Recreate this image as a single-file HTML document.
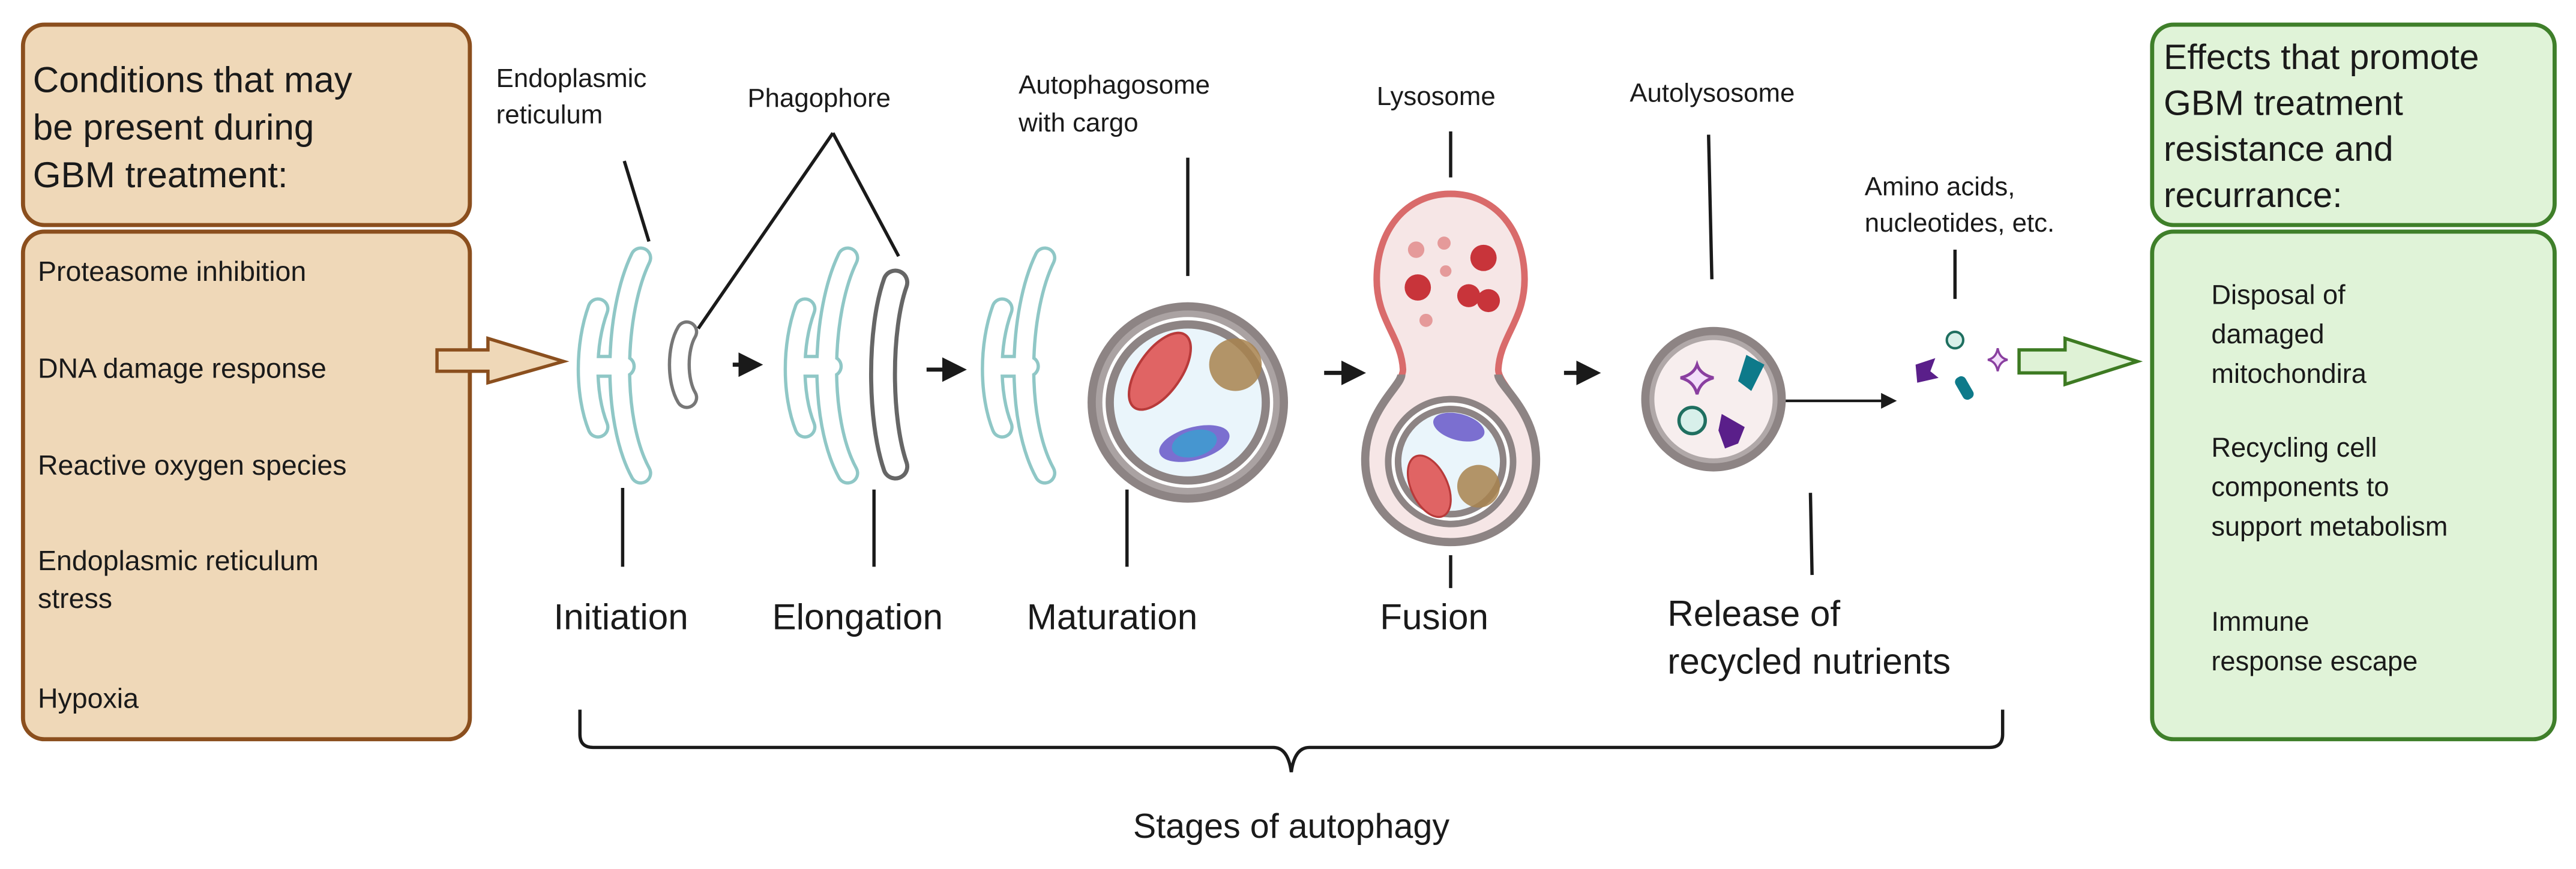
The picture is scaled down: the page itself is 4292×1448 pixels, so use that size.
<!DOCTYPE html>
<html><head><meta charset="utf-8"><style>
html,body{margin:0;padding:0;background:#fff}
svg{display:block}
text{font-family:"Liberation Sans",Arial,sans-serif;fill:#1a1a1a}
</style></head><body>
<svg width="4292" height="1448" viewBox="0 0 1568 529" preserveAspectRatio="none" xmlns="http://www.w3.org/2000/svg">
<defs>
<marker id="ah" markerWidth="6" markerHeight="6" refX="5" refY="3" orient="auto" markerUnits="strokeWidth"><path d="M0,0 L6,3 L0,6 Z" fill="#1a1a1a"/></marker>
<g id="erpaths">
  <path d="M38,7 C22,40 20,105 38,138"/>
  <path d="M12,38 C4,60 4,90 12,110"/>
  <path d="M10,73 L28,73"/>
</g>
<g id="er">
  <use href="#erpaths" stroke="#8fc7c6" stroke-width="14" stroke-linecap="round" fill="none"/>
  <use href="#erpaths" stroke="#fff" stroke-width="10" stroke-linecap="round" fill="none"/>
</g>
</defs>

<!-- Left boxes -->
<rect x="14" y="15" width="272" height="122" rx="13" fill="#efd8b8" stroke="#8b4f1e" stroke-width="2.5"/>
<rect x="14" y="141" width="272" height="309" rx="13" fill="#efd8b8" stroke="#8b4f1e" stroke-width="2.5"/>
<text font-size="22"><tspan x="20" y="56">Conditions that may</tspan><tspan x="20" y="85">be present during</tspan><tspan x="20" y="114">GBM treatment:</tspan></text>
<text font-size="17">
<tspan x="23" y="171">Proteasome inhibition</tspan>
<tspan x="23" y="230">DNA damage response</tspan>
<tspan x="23" y="289">Reactive oxygen species</tspan>
<tspan x="23" y="347">Endoplasmic reticulum</tspan>
<tspan x="23" y="370">stress</tspan>
<tspan x="23" y="431">Hypoxia</tspan>
</text>

<!-- tan arrow -->
<path d="M266,213 L297,213 L297,206 L343,220 L297,233 L297,226 L266,226 Z" fill="#efd8b8" stroke="#8b4f1e" stroke-width="2"/>

<!-- Top labels -->
<text font-size="16"><tspan x="302" y="53">Endoplasmic</tspan><tspan x="302" y="75">reticulum</tspan></text>
<text font-size="16" x="455" y="65">Phagophore</text>
<text font-size="16"><tspan x="620" y="57">Autophagosome</tspan><tspan x="620" y="80">with cargo</tspan></text>
<text font-size="16" x="838" y="64">Lysosome</text>
<text font-size="16" x="992" y="62">Autolysosome</text>
<text font-size="16"><tspan x="1135" y="119">Amino acids,</tspan><tspan x="1135" y="141">nucleotides, etc.</tspan></text>

<!-- pointer lines -->
<g stroke="#1a1a1a" stroke-width="2" fill="none">
<path d="M380,98 L395,147"/>
<path d="M507,81 L425,200 M507,81 L547,156"/>
<path d="M723,96 L723,168"/>
<path d="M883,80 L883,108"/>
<path d="M1040,82 L1042,170"/>
<path d="M1190,152 L1190,182"/>
<path d="M379,297 L379,345"/>
<path d="M532,298 L532,345"/>
<path d="M686,298 L686,345"/>
<path d="M883,338 L883,358"/>
<path d="M1102,300 L1103,350"/>
</g>

<!-- ER shapes -->
<use href="#er" x="352" y="150"/>
<use href="#er" x="478" y="150"/>
<use href="#er" x="598" y="150"/>
<!-- phagophores -->
<path d="M418,202 C412,212 412,232 418,242" stroke="#777" stroke-width="14" stroke-linecap="round" fill="none"/>
<path d="M418,202 C412,212 412,232 418,242" stroke="#fff" stroke-width="10" stroke-linecap="round" fill="none"/>
<path d="M545,172 C535,200 535,255 545,284" stroke="#666" stroke-width="17" stroke-linecap="round" fill="none"/>
<path d="M545,172 C535,200 535,255 545,284" stroke="#fff" stroke-width="12" stroke-linecap="round" fill="none"/>

<!-- step arrows -->
<g stroke="#1a1a1a" stroke-width="2.5" marker-end="url(#ah)">
<path d="M446,222 L462,222"/>
<path d="M564,225 L586,225"/>
<path d="M806,227 L829,227"/>
<path d="M952,227 L972,227"/>
</g>
<path d="M1077,244 L1153,244" stroke="#1a1a1a" stroke-width="1.6" marker-end="url(#ah)"/>

<!-- autophagosome -->
<circle cx="723" cy="245" r="61" fill="#8d8484"/>
<circle cx="723" cy="245" r="56" fill="#aaa2a2"/>
<circle cx="723" cy="245" r="52" fill="#fff"/>
<circle cx="723" cy="245" r="50" fill="#8d8484"/>
<circle cx="723" cy="245" r="45" fill="#eaf5fb"/>
<ellipse cx="706" cy="226" rx="13" ry="27" transform="rotate(35 706 226)" fill="#e06464" stroke="#b83a3a" stroke-width="1.5"/>
<circle cx="752" cy="222" r="16" fill="#a8834e" opacity="0.85"/>
<ellipse cx="727" cy="270" rx="22" ry="10" transform="rotate(-15 727 270)" fill="#7b6fd0"/>
<ellipse cx="727" cy="270" rx="14" ry="8" transform="rotate(-15 727 270)" fill="#3aa0d0" opacity="0.8"/>

<!-- lysosome fusion -->
<path d="M883,118 C910,118 928,140 928,170 C928,195 913,205 912,225 C912,235 935,250 935,280 C935,310 912,330 883,330 C854,330 831,310 831,280 C831,250 854,235 854,225 C853,205 838,195 838,170 C838,140 856,118 883,118 Z" fill="#f6e6e6" stroke="#d96b6b" stroke-width="4"/>
<path d="M853,228 C853,235 831,250 831,280 C831,310 854,330 883,330 C912,330 935,310 935,280 C935,250 912,235 912,228" fill="none" stroke="#8d8484" stroke-width="5"/>
<circle cx="883" cy="281" r="40" fill="#8d8484"/>
<circle cx="883" cy="281" r="36" fill="#fff"/>
<circle cx="883" cy="281" r="34" fill="#8d8484"/>
<circle cx="883" cy="281" r="30" fill="#eaf5fb"/>
<ellipse cx="870" cy="296" rx="11" ry="20" transform="rotate(-25 870 296)" fill="#e06464" stroke="#b83a3a" stroke-width="1.2"/>
<circle cx="900" cy="296" r="13" fill="#a8834e" opacity="0.85"/>
<ellipse cx="888" cy="260" rx="16" ry="8" transform="rotate(15 888 260)" fill="#7b6fd0"/>
<g fill="#c8343a"><circle cx="903" cy="157" r="8"/><circle cx="863" cy="175" r="8"/><circle cx="894" cy="180" r="7"/><circle cx="906" cy="183" r="7"/></g>
<g fill="#e59a9a"><circle cx="879" cy="148" r="4"/><circle cx="862" cy="152" r="5"/><circle cx="880" cy="165" r="3.5"/><circle cx="868" cy="195" r="4"/></g>

<!-- autolysosome -->
<circle cx="1043" cy="243" r="44" fill="#8d8484"/>
<circle cx="1043" cy="243" r="39" fill="#b0a8a8"/>
<circle cx="1043" cy="243" r="36" fill="#f7eeee"/>
<path d="M1033,222 Q1035,228 1043,230 Q1035,232 1033,240 Q1031,232 1023,230 Q1031,228 1033,222 Z" fill="#f3defa" stroke="#8a3fa0" stroke-width="1.8"/>
<path d="M1063,216 L1074,222 L1066,238 L1058,232 Z" fill="#0e7a8a"/>
<circle cx="1030" cy="256" r="8" fill="#d8f0ea" stroke="#1f6f60" stroke-width="2"/>
<path d="M1048,252 L1062,260 L1058,270 L1050,273 L1046,262 Z" fill="#5a1f8a"/>

<!-- molecules -->
<circle cx="1190" cy="207" r="5" fill="#d8f0ea" stroke="#1f6f60" stroke-width="1.5"/>
<path d="M1166,222 L1178,218 L1175,226 L1180,230 L1167,233 Z" fill="#5a1f8a"/>
<path d="M1216,212 Q1217,218 1222,219 Q1217,220 1216,226 Q1215,220 1210,219 Q1215,218 1216,212 Z" fill="#f3defa" stroke="#8a3fa0" stroke-width="1.3"/>
<rect x="1192" y="229" width="7" height="15" rx="3" transform="rotate(-30 1195 236)" fill="#0e7a8a"/>

<!-- green arrow -->
<path d="M1229,213 L1257,213 L1257,206 L1301,220 L1257,234 L1257,227 L1229,227 Z" fill="#dff2d6" stroke="#3d7a22" stroke-width="2"/>

<!-- Right boxes -->
<rect x="1310" y="15" width="245" height="122" rx="13" fill="#e0f3d8" stroke="#3f7f2a" stroke-width="2.5"/>
<rect x="1310" y="141" width="245" height="309" rx="13" fill="#e0f3d8" stroke="#3f7f2a" stroke-width="2.5"/>
<text font-size="21.5"><tspan x="1317" y="42">Effects that promote</tspan><tspan x="1317" y="70">GBM treatment</tspan><tspan x="1317" y="98">resistance and</tspan><tspan x="1317" y="126">recurrance:</tspan></text>
<text font-size="16.5">
<tspan x="1346" y="185">Disposal of</tspan><tspan x="1346" y="209">damaged</tspan><tspan x="1346" y="233">mitochondira</tspan>
<tspan x="1346" y="278">Recycling cell</tspan><tspan x="1346" y="302">components to</tspan><tspan x="1346" y="326">support metabolism</tspan>
<tspan x="1346" y="384">Immune</tspan><tspan x="1346" y="408">response escape</tspan>
</text>

<!-- stage labels -->
<text font-size="22"><tspan x="337" y="383">Initiation</tspan><tspan x="470" y="383">Elongation</tspan><tspan x="625" y="383">Maturation</tspan><tspan x="840" y="383">Fusion</tspan></text>
<text font-size="22"><tspan x="1015" y="381">Release of</tspan><tspan x="1015" y="410">recycled nutrients</tspan></text>

<!-- brace -->
<path d="M353,432 L353,447 Q353,455 361,455 L775,455 Q784,455 786,470 Q788,455 797,455 L1211,455 Q1219,455 1219,447 L1219,432" fill="none" stroke="#1a1a1a" stroke-width="2"/>
<text font-size="21" x="786" y="510" text-anchor="middle">Stages of autophagy</text>
</svg>
</body></html>
